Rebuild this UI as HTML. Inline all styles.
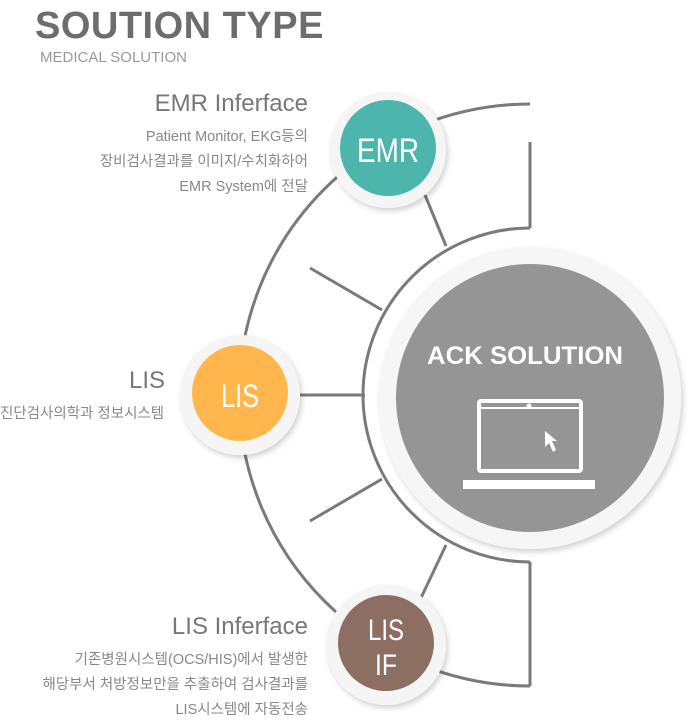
<!DOCTYPE html>
<html><head><meta charset="utf-8"><style>
body{margin:0;width:690px;height:722px;background:#fff;overflow:hidden;position:relative;font-family:"Liberation Sans","Noto Sans CJK KR",sans-serif}
.t{position:absolute;white-space:nowrap}
.r{text-align:right}
</style></head><body>
<div class="t" style="left:35px;top:5px;font-size:38px;font-weight:bold;color:#6d6d6d;letter-spacing:0.5px">SOUTION TYPE</div>
<div class="t" style="left:40px;top:49px;font-size:15px;color:#9a9a9a">MEDICAL SOLUTION</div>

<svg width="690" height="722" style="position:absolute;left:0;top:0">
<defs>
<filter id="sh" x="-30%" y="-30%" width="160%" height="160%"><feDropShadow dx="2" dy="3" stdDeviation="3" flood-color="#000" flood-opacity="0.18"/></filter>
</defs>
<g stroke="#7a7a7a" stroke-width="3" fill="none">
<path d="M530 104 A291 291 0 0 0 530 686"/>
<path d="M530 228 A167 167 0 0 0 530 562"/>
<line x1="530" y1="142" x2="530" y2="228"/>
<line x1="530" y1="562" x2="530" y2="686"/>
<line x1="310" y1="268" x2="382" y2="310"/>
<line x1="300" y1="395" x2="365" y2="395"/>
<line x1="310" y1="521" x2="382" y2="479"/>
<line x1="425" y1="195" x2="446" y2="246"/>
<line x1="420" y1="600" x2="446" y2="545"/>
</g>
<circle cx="530" cy="398" r="151" fill="#f6f6f6" filter="url(#sh)"/>
<circle cx="530" cy="398" r="134" fill="#959595"/>
<text x="525" y="364" fill="#fff" font-size="25" font-weight="bold" text-anchor="middle" textLength="196" lengthAdjust="spacingAndGlyphs" font-family="Liberation Sans,sans-serif">ACK SOLUTION</text>
<rect x="479" y="401" width="102" height="70" fill="none" stroke="#fff" stroke-width="4" rx="2"/>
<line x1="479" y1="408" x2="581" y2="408" stroke="#fff" stroke-width="2"/>
<circle cx="529" cy="406" r="2.5" fill="#fff"/>
<rect x="463" y="480" width="132" height="9" fill="#fff"/>
<path d="M545 431 L545 447 L549 443 L553 452 L556 450 L552 441 L557 441 Z" fill="#fff"/>

<circle cx="388" cy="150" r="58" fill="#f5f5f5" filter="url(#sh)"/>
<circle cx="388" cy="148" r="48" fill="#4db6ac"/>
<text x="388" y="162" fill="#fff" font-size="34" text-anchor="middle" textLength="62" lengthAdjust="spacingAndGlyphs" font-family="Liberation Sans,sans-serif">EMR</text>

<circle cx="240" cy="395" r="60" fill="#f5f5f5" filter="url(#sh)"/>
<circle cx="240" cy="393" r="48" fill="#ffb74d"/>
<text x="240" y="407" fill="#fff" font-size="32" text-anchor="middle" textLength="38" lengthAdjust="spacingAndGlyphs" font-family="Liberation Sans,sans-serif">LIS</text>

<circle cx="386" cy="645" r="60" fill="#f5f5f5" filter="url(#sh)"/>
<circle cx="386" cy="643" r="48" fill="#8d6e63"/>
<text x="386" y="640" fill="#fff" font-size="30" text-anchor="middle" textLength="36" lengthAdjust="spacingAndGlyphs" font-family="Liberation Sans,sans-serif">LIS</text>
<text x="386" y="675" fill="#fff" font-size="30" text-anchor="middle" textLength="22" lengthAdjust="spacingAndGlyphs" font-family="Liberation Sans,sans-serif">IF</text>
</svg>

<div class="t r" style="right:382px;top:90px;font-size:24px;color:#777">EMR Inferface</div>
<div class="t r" style="right:382px;top:125px;font-size:14.5px;line-height:25px;color:#888">Patient Monitor, EKG등의<br>장비검사결과를 이미지/수치화하어<br>EMR System에 전달</div>

<div class="t r" style="right:525px;top:367px;font-size:24px;color:#777">LIS</div>
<div class="t" style="left:0;top:402px;font-size:14.5px;color:#888">진단검사의학과 정보시스템</div>

<div class="t r" style="right:382px;top:613px;font-size:24px;color:#777">LIS Inferface</div>
<div class="t r" style="right:382px;top:648px;font-size:14.5px;line-height:25px;color:#888">기존병원시스템(OCS/HIS)에서 발생한<br>해당부서 처방정보만을 추출하여 검사결과를<br>LIS시스템에 자동전송</div>
</body></html>
